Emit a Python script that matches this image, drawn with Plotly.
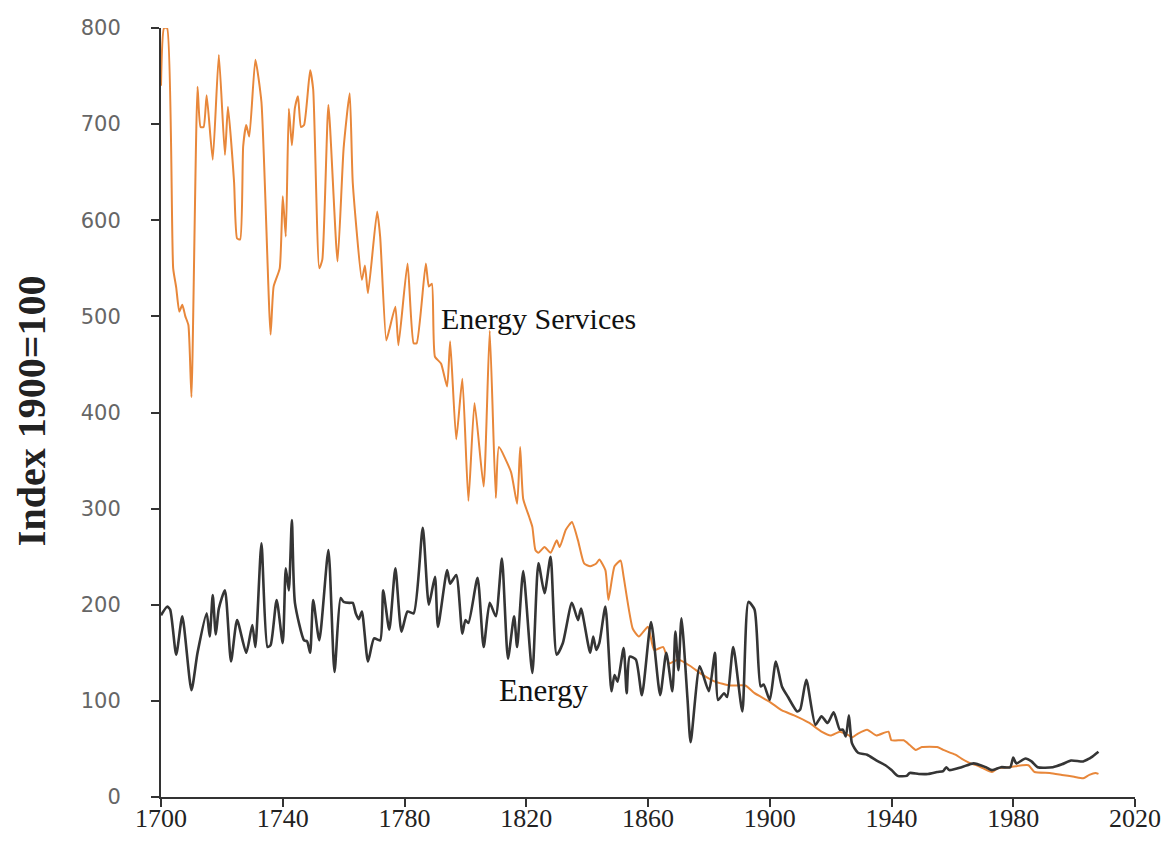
import plotly.graph_objects as go

# Energy Services (index 1900=100)
services_years = [1700, 1701, 1702, 1704, 1705, 1706, 1707, 1708, 1709, 1710, 1712, 1713, 1714, 1715,
                  1717, 1719, 1721, 1722, 1724, 1725, 1726, 1727, 1728, 1729, 1731, 1733, 1736, 1737,
                  1739, 1740, 1741, 1742, 1743, 1744, 1745, 1746, 1747, 1749, 1750, 1752, 1753, 1755,
                  1758, 1760, 1762, 1763, 1766, 1767, 1768, 1771, 1772, 1774, 1775, 1777, 1778, 1781,
                  1783, 1784, 1787, 1788, 1789, 1790, 1792, 1794, 1795, 1797, 1799, 1801, 1803, 1806,
                  1808, 1810, 1811, 1815, 1817, 1818, 1819, 1821, 1822, 1823, 1824, 1826, 1828, 1830,
                  1831, 1833, 1835, 1837, 1839, 1841, 1843, 1844, 1846, 1847, 1849, 1851, 1852, 1855,
                  1857, 1860, 1862, 1865, 1867, 1870, 1874, 1878, 1882, 1887, 1892, 1895, 1900, 1904,
                  1908, 1913, 1917, 1920, 1923, 1926, 1927, 1929, 1932, 1935, 1939, 1940, 1944, 1946,
                  1948, 1950, 1955, 1957, 1961, 1963, 1966, 1968, 1970, 1973, 1975, 1979, 1983, 1985,
                  1987, 1992, 1996, 2000, 2003, 2005, 2007, 2008]
services_values = [740, 800, 800, 550, 530, 505, 512, 500, 491, 416, 739, 697, 697, 730,
                   663, 772, 668, 718, 640, 581, 580, 677, 699, 687, 767, 723, 481, 531,
                   550, 625, 583, 716, 678, 717, 729, 697, 699, 756, 736, 550, 559, 720,
                   557, 675, 732, 639, 538, 553, 524, 609, 583, 475, 486, 510, 470, 555,
                   472, 472, 555, 531, 534, 458, 451, 427, 474, 372, 435, 308, 410, 323,
                   485, 311, 364, 338, 305, 364, 310, 291, 281, 257, 254, 260, 254, 267,
                   260, 278, 286, 267, 243, 240, 243, 247, 236, 205, 240, 246, 229, 175,
                   167, 177, 153, 156, 139, 143, 136, 127, 120, 116, 116, 108, 99, 90,
                   85, 77, 68, 64, 68, 64, 62, 66, 70, 64, 68, 59, 59, 54,
                   49, 52, 52, 49, 44, 40, 35, 33, 30, 26, 30, 31, 33, 33,
                   26, 25, 23, 21, 19.5, 23, 25, 24]

# Energy (index 1900=100)
energy_years = [1700, 1702, 1703, 1705, 1707, 1710, 1712, 1715, 1716, 1717, 1718, 1719, 1721, 1723,
                1725, 1728, 1730, 1731, 1733, 1735, 1736, 1738, 1740, 1741, 1742, 1743, 1744, 1747,
                1748, 1749, 1750, 1752, 1755, 1757, 1759, 1760, 1762, 1763, 1764, 1765, 1766, 1768,
                1770, 1772, 1773, 1775, 1777, 1779, 1781, 1783, 1786, 1788, 1790, 1791, 1794, 1795,
                1797, 1799, 1800, 1801, 1804, 1806, 1808, 1810, 1812, 1814, 1816, 1817, 1819, 1822,
                1824, 1826, 1828, 1830, 1832, 1835, 1837, 1838, 1841, 1842, 1843, 1844, 1846, 1848,
                1849, 1850, 1852, 1853, 1854, 1856, 1858, 1861, 1864, 1866, 1868, 1869, 1870, 1871,
                1873, 1874, 1877, 1880, 1882, 1883, 1885, 1886, 1888, 1891, 1893, 1895, 1897, 1898,
                1900, 1902, 1904, 1906, 1909, 1910, 1912, 1915, 1917, 1919, 1921, 1923, 1924, 1925,
                1926, 1927, 1929, 1932, 1935, 1938, 1940, 1942, 1945, 1946, 1949, 1952, 1955, 1957,
                1958, 1959, 1963, 1967, 1971, 1973, 1976, 1979, 1980, 1981, 1984, 1986, 1988, 1993,
                1996, 1999, 2003, 2005, 2006, 2008]
energy_values = [189, 198, 195, 148, 188, 111, 150, 191, 167, 210, 169, 196, 215, 141,
                 184, 150, 179, 156, 264, 156, 158, 205, 160, 238, 215, 288, 202, 163,
                 162, 150, 205, 163, 257, 130, 207, 203, 202, 202, 191, 185, 193, 141,
                 165, 163, 215, 174, 238, 172, 193, 191, 280, 200, 229, 177, 236, 222,
                 231, 170, 184, 181, 228, 156, 202, 188, 248, 144, 188, 156, 235, 129,
                 243, 212, 250, 148, 160, 202, 184, 196, 150, 167, 153, 160, 198, 110,
                 127, 120, 155, 108, 146, 143, 106, 182, 106, 150, 110, 172, 132, 186,
                 101, 57, 136, 110, 150, 101, 108, 104, 156, 89, 203, 195, 115, 117,
                 101, 141, 115, 104, 89, 91, 122, 75, 84, 77, 88, 70, 70, 63,
                 85, 56, 46, 44, 38, 33, 28, 22, 22, 25, 24, 24, 26, 27,
                 31, 28, 31, 35, 31, 28, 31, 31, 41, 35, 40, 37, 31, 31,
                 34, 38, 37, 40, 42, 47]

x_ticks = [1700, 1740, 1780, 1820, 1860, 1900, 1940, 1980, 2020]
y_ticks = [0, 100, 200, 300, 400, 500, 600, 700, 800]

fig = go.Figure()
fig.add_trace(go.Scatter(x=services_years, y=services_values, mode="lines",
                         name="Energy Services",
                         line=dict(color="#E8873A", width=2, shape="spline", smoothing=0.5),
                         showlegend=False))
fig.add_trace(go.Scatter(x=energy_years, y=energy_values, mode="lines",
                         name="Energy",
                         line=dict(color="#353535", width=2.6, shape="spline", smoothing=0.6),
                         showlegend=False))

fig.add_annotation(x=1791.3, y=498, text="Energy Services", showarrow=False,
                   xanchor="left", yanchor="middle",
                   font=dict(family="Liberation Serif", size=30, color="#111111"))
fig.add_annotation(x=1810.3, y=111, text="Energy", showarrow=False,
                   xanchor="left", yanchor="middle",
                   font=dict(family="Liberation Serif", size=31, color="#111111"))
fig.add_annotation(xref="paper", yref="paper", x=-0.1335, y=0.503,
                   text="<b>Index 1900=100</b>", showarrow=False, textangle=-90,
                   xanchor="center", yanchor="middle",
                   font=dict(family="Liberation Serif", size=40, color="#222222"))

fig.update_layout(
    width=1161, height=839,
    margin=dict(l=153, r=34, t=20, b=50, autoexpand=False),
    plot_bgcolor="white", paper_bgcolor="white",
    xaxis=dict(range=[1700, 2020], tickvals=x_ticks, ticktext=[str(v) for v in x_ticks],
               automargin=False,
               showgrid=False, zeroline=False, showline=True, linecolor="#333333", linewidth=2,
               ticks="outside", ticklen=8, tickwidth=1.5, tickcolor="#333333",
               ticklabelstandoff=-11,
               tickfont=dict(family="Liberation Serif", size=26, color="#222222")),
    yaxis=dict(range=[0, 800], tickvals=y_ticks, ticktext=[str(v) for v in y_ticks],
               automargin=False,
               showgrid=False, zeroline=False, showline=True, linecolor="#333333", linewidth=2,
               ticks="outside", ticklen=8, tickwidth=1.5, tickcolor="#333333",
               ticklabelstandoff=26,
               tickfont=dict(family="DejaVu Sans", size=21, color="#666666")),
)

fig.write_html("out.html")
